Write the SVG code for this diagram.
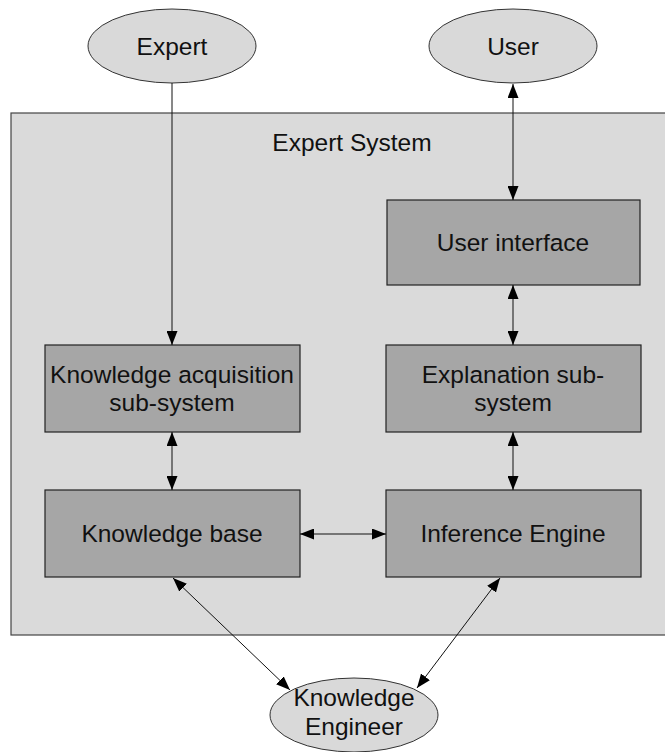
<svg xmlns="http://www.w3.org/2000/svg" width="665" height="752" viewBox="0 0 665 752">
<style>
text{font-family:"Liberation Sans",Arial,sans-serif;font-size:24.5px;fill:#111;text-anchor:middle}
.ell{fill:#d9d9d9;stroke:#333;stroke-width:1}
.box{fill:#a6a6a6;stroke:#222;stroke-width:1.2}
.con{fill:#dadada;stroke:#444;stroke-width:1.2}
.ln{stroke:#111;stroke-width:1;fill:none;marker-end:url(#ah)}
.bi{marker-start:url(#ahs)}
</style>
<defs>
<marker id="ah" viewBox="0 0 14 11" refX="14" refY="5.5" markerWidth="14" markerHeight="11" markerUnits="userSpaceOnUse" orient="auto"><path d="M0,0 L14,5.5 L0,11 z" fill="#000"/></marker>
<marker id="ahs" viewBox="0 0 14 11" refX="0" refY="5.5" markerWidth="14" markerHeight="11" markerUnits="userSpaceOnUse" orient="auto"><path d="M14,0 L0,5.5 L14,11 z" fill="#000"/></marker>
</defs>
<g id="expert-system"><rect class="con" x="11" y="113" width="660" height="522"/><text x="352" y="151">Expert System</text></g>
<g id="expert"><ellipse class="ell" cx="172" cy="46" rx="84" ry="37"/><text x="172" y="55">Expert</text></g>
<g id="user"><ellipse class="ell" cx="513" cy="46" rx="84" ry="37"/><text x="513" y="55">User</text></g>
<g id="user-interface"><rect class="box" x="387" y="200" width="253" height="85"/><text x="513" y="251">User interface</text></g>
<g id="knowledge-acquisition"><rect class="box" x="45" y="345" width="255" height="87"/><text x="172" y="383">Knowledge acquisition</text><text x="172" y="411">sub-system</text></g>
<g id="explanation"><rect class="box" x="386" y="345" width="255" height="87"/><text x="513" y="383">Explanation sub-</text><text x="513" y="411">system</text></g>
<g id="knowledge-base"><rect class="box" x="45" y="490" width="255" height="87"/><text x="172" y="542">Knowledge base</text></g>
<g id="inference-engine"><rect class="box" x="386" y="490" width="255" height="87"/><text x="513" y="542">Inference Engine</text></g>
<g id="knowledge-engineer"><ellipse class="ell" cx="354" cy="715" rx="84" ry="37"/><text x="354" y="706">Knowledge</text><text x="354" y="735">Engineer</text></g>
<g id="connectors">
<line class="ln" x1="172" y1="83" x2="172" y2="345"/>
<line class="ln bi" x1="513" y1="84" x2="513" y2="200"/>
<line class="ln bi" x1="513" y1="285" x2="513" y2="345"/>
<line class="ln bi" x1="513" y1="432" x2="513" y2="490"/>
<line class="ln bi" x1="172" y1="432" x2="172" y2="490"/>
<line class="ln bi" x1="300" y1="534" x2="386" y2="534"/>
<line class="ln bi" x1="173" y1="578" x2="290" y2="690"/>
<line class="ln bi" x1="500" y1="578" x2="417" y2="688"/>
</g>
</svg>
